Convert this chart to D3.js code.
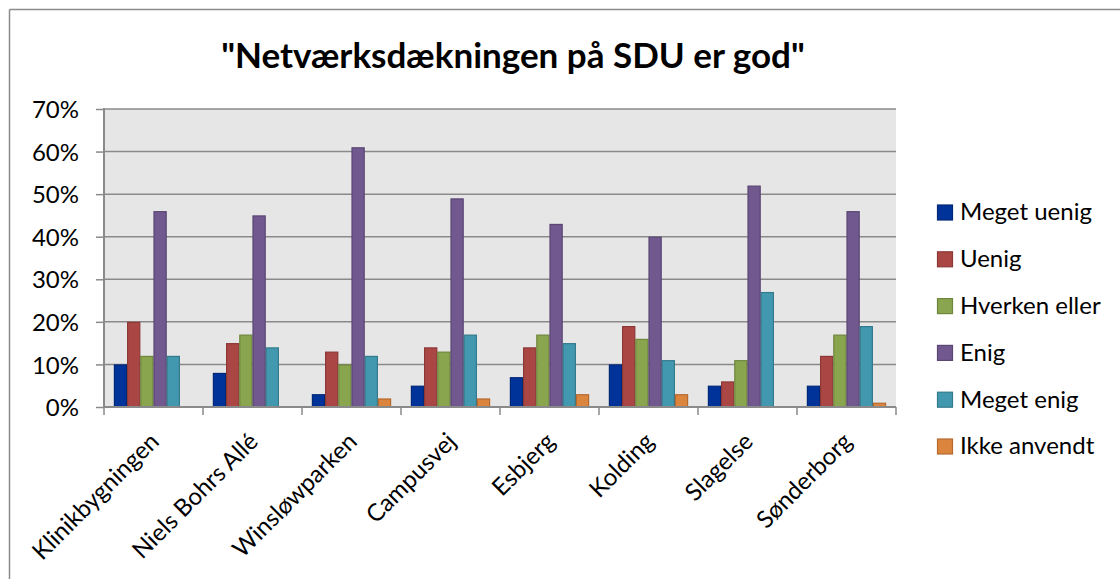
<!DOCTYPE html>
<html>
<head>
<meta charset="utf-8">
<script src="https://cdn.jsdelivr.net/npm/d3@7"></script>
<style>
  html, body { margin: 0; padding: 0; background: #fff; }
  svg { display: block; }
  text { font-family: Lato, "Open Sans", sans-serif; fill: #000; }
</style>
</head>
<body>
<svg id="chart" width="1120" height="579"></svg>
<script>
const categories = ["Klinikbygningen", "Niels Bohrs Allé", "Winsløwparken", "Campusvej", "Esbjerg", "Kolding", "Slagelse", "Sønderborg"];
const seriesNames = ["Meget uenig", "Uenig", "Hverken eller", "Enig", "Meget enig", "Ikke anvendt"];
const megetUenig  = [10, 8, 3, 5, 7, 10, 5, 5];
const uenig       = [20, 15, 13, 14, 14, 19, 6, 12];
const hverkenEller= [12, 17, 10, 13, 17, 16, 11, 17];
const enig        = [46, 45, 61, 49, 43, 40, 52, 46];
const megetEnig   = [12, 14, 12, 17, 15, 11, 27, 19];
const ikkeAnvendt = [0, 0, 2, 2, 3, 3, 0, 1];
const yTicks = [0, 10, 20, 30, 40, 50, 60, 70];
const title = "\"Netværksdækningen på SDU er god\"";

const seriesValues = [megetUenig, uenig, hverkenEller, enig, megetEnig, ikkeAnvendt];
const fills   = ["#003399", "#AA4643", "#89A54E", "#71588F", "#4198AF", "#DB843D"];
const strokes = ["#002877", "#8C3836", "#6F863E", "#5A4673", "#337A8C", "#B5692F"];

const svg = d3.select("#chart");
const W = 1120, H = 579;
const plot = { left: 104, right: 896, top: 109, bottom: 407 };
const FS = 24;

// outer frame (top & left only visible)
svg.append("line").attr("x1", 9.5).attr("x2", W).attr("y1", 9.5).attr("y2", 9.5)
  .attr("stroke", "#8c8c8c").attr("stroke-width", 1.5);
svg.append("line").attr("x1", 9.5).attr("x2", 9.5).attr("y1", 9.5).attr("y2", H)
  .attr("stroke", "#8c8c8c").attr("stroke-width", 1.5);

// title
svg.append("text").attr("x", 513).attr("y", 68).attr("text-anchor", "middle")
  .attr("font-weight", "bold").attr("font-size", 35).text(title);

const x = d3.scaleBand().domain(categories).range([plot.left, plot.right]).padding(0);
const barW = x.bandwidth() / 7.5;
const gap = (x.bandwidth() - barW * 6) / 2;
const inner = d3.scaleBand().domain(d3.range(seriesNames.length)).range([gap, gap + barW * 6]).padding(0);

const y = d3.scaleLinear().domain([0, 70]).range([plot.bottom, plot.top]);

// plot background
svg.append("rect").attr("x", plot.left).attr("y", plot.top)
  .attr("width", plot.right - plot.left).attr("height", plot.bottom - plot.top)
  .attr("fill", "#E6E6E6");

// gridlines
svg.append("g").selectAll("line").data(yTicks.filter(d => d > 0)).join("line")
  .attr("x1", plot.left).attr("x2", plot.right)
  .attr("y1", d => y(d)).attr("y2", d => y(d))
  .attr("stroke", "#8a8a8a").attr("stroke-width", 1.5);

// bars
const groups = svg.append("g").selectAll("g").data(seriesNames).join("g")
  .attr("fill", (d, i) => fills[i]).attr("stroke", (d, i) => strokes[i]);
groups.selectAll("rect").data((s, si) => categories.map((c, ci) => ({ c, si, v: seriesValues[si][ci] })))
  .join("rect")
  .filter(d => d.v > 0)
  .attr("x", d => x(d.c) + inner(d.si) + 0.5)
  .attr("y", d => y(d.v) + 0.5)
  .attr("width", barW - 1)
  .attr("height", d => y(0) - y(d.v) - 0.5)
  .attr("stroke-width", 1.2);

// y axis
const yAxis = d3.axisLeft(y).tickValues(yTicks).tickFormat(d => d + "%").tickSize(8).tickPadding(17);
const yg = svg.append("g").attr("transform", `translate(${plot.left},0)`).call(yAxis);
yg.select(".domain").attr("stroke", "#8a8a8a").attr("stroke-width", 2).attr("d", `M0,${plot.top - 1}V${plot.bottom}`);
yg.selectAll(".tick line").attr("stroke", "#8a8a8a").attr("stroke-width", 1.5);
yg.selectAll(".tick text").attr("font-size", FS).attr("font-family", "Lato, sans-serif").attr("fill", "#000").attr("dy", "0.36em");

// x axis
const xAxis = d3.axisBottom(x).tickSize(0).tickFormat("");
const xg = svg.append("g").attr("transform", `translate(0,${plot.bottom})`).call(xAxis);
xg.select(".domain").attr("stroke", "#8a8a8a").attr("stroke-width", 2).attr("d", `M${plot.left},0H${plot.right}`);
xg.selectAll(".tick").remove();
const boundaries = d3.range(categories.length + 1).map(i => plot.left + i * x.step());
xg.selectAll("line.tk").data(boundaries).join("line").attr("class", "tk")
  .attr("x1", d => d).attr("x2", d => d).attr("y1", 0).attr("y2", 8)
  .attr("stroke", "#8a8a8a").attr("stroke-width", 1.5);

// x labels rotated
svg.append("g").selectAll("text").data(categories).join("text")
  .attr("transform", d => `translate(${x(d) + x.bandwidth() / 2 + 1},${plot.bottom + 30}) rotate(-45)`)
  .attr("text-anchor", "end").attr("font-size", FS).attr("dy", "0.35em")
  .text(d => d);

// legend
const legend = svg.append("g").attr("transform", "translate(937,212)");
const li = legend.selectAll("g").data(seriesNames).join("g")
  .attr("transform", (d, i) => `translate(0,${i * 46.8})`);
li.append("rect").attr("x", 0.5).attr("y", -7).attr("width", 15).attr("height", 15)
  .attr("fill", (d, i) => fills[i]).attr("stroke", (d, i) => strokes[i]).attr("stroke-width", 1.2);
li.append("text").attr("x", 23).attr("dy", "0.35em").attr("font-size", FS).text(d => d);
</script>
</body>
</html>
